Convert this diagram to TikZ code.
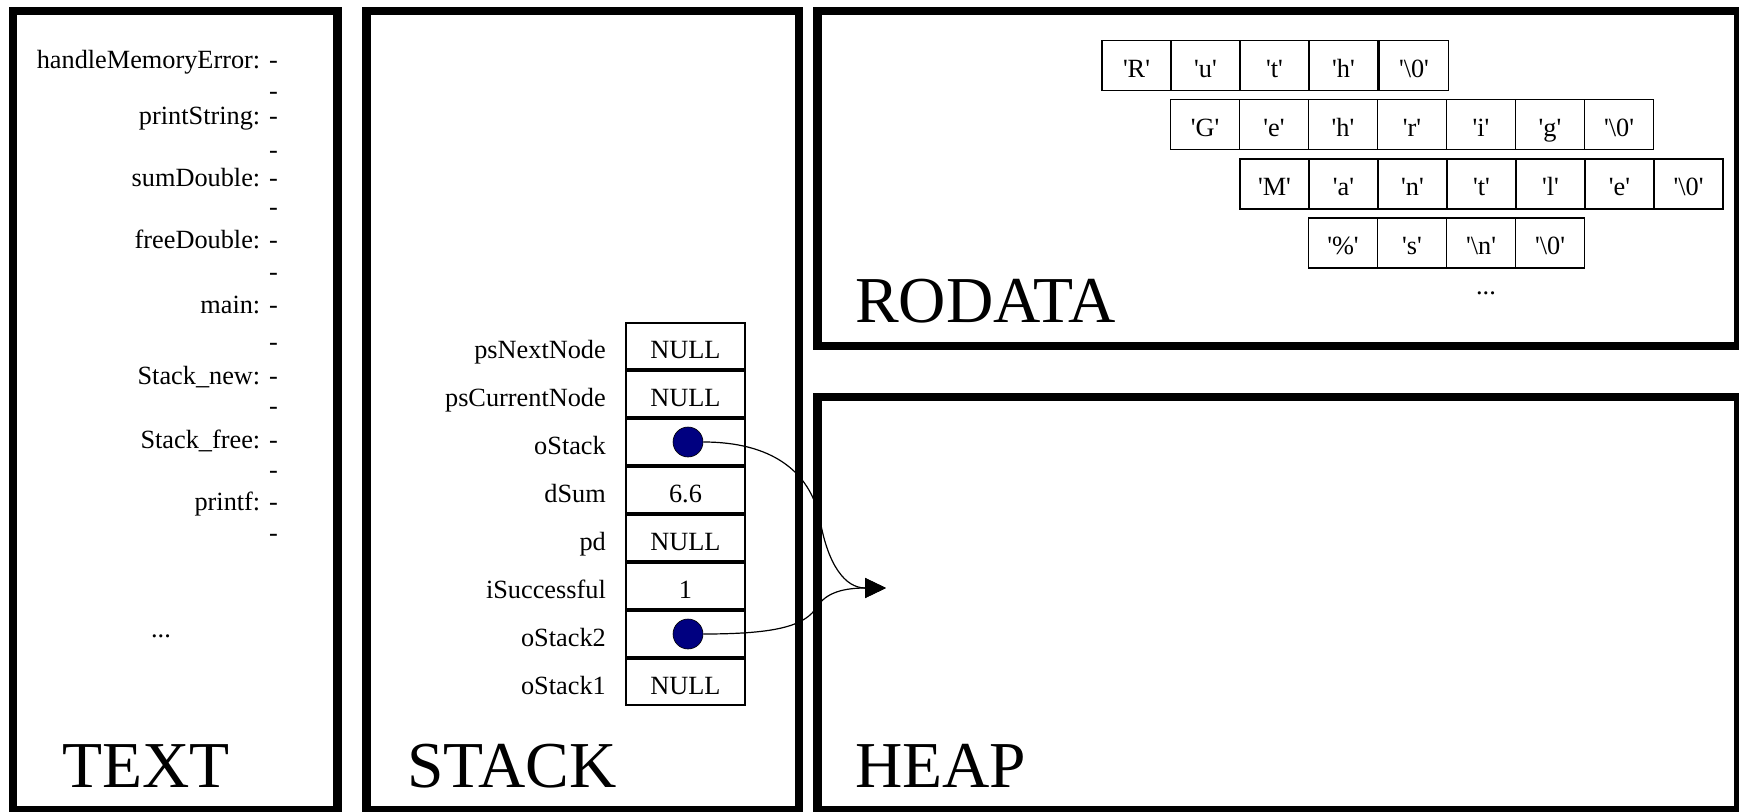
\documentclass[tikz,border=0pt]{standalone}
\usepackage{fontspec}
\setmainfont{Liberation Serif}[Ligatures=TeXOff]
\usetikzlibrary{arrows.meta}
\definecolor{dotblue}{RGB}{0,0,128}
\newcommand\fs{\fontsize{26.3}{31}\selectfont}
\newcommand\bigfs{\fontsize{65.5}{72}\selectfont}
\newcommand\bs{\textbackslash}
\begin{document}
\begin{tikzpicture}[x=1pt,y=-1pt,
  region/.style={draw, line width=8.5pt},
  biglabel/.style={anchor=base west, inner sep=0pt, font=\bigfs},
  tlabel/.style={anchor=base east, inner sep=0pt, font=\fs},
  scell/.style={draw, line width=1.6pt, minimum width=119pt, minimum height=46.4pt,
    inner sep=0pt, outer sep=0pt, text height=27pt, text depth=3pt, font=\fs},
  rcell/.style={draw, line width=1.5pt, minimum width=69pt, minimum height=50pt,
    inner sep=0pt, outer sep=0pt, text height=26pt, text depth=3pt, font=\fs},
  dot/.style={circle, fill=dotblue, draw=black, line width=0.6pt, minimum size=30pt, inner sep=0pt},
  ptr/.style={line width=1.2pt, -{Triangle[length=21pt,width=20pt]}}]
\useasboundingbox (0,0) rectangle (1739,811);
% regions
\draw[region] (13,11) rectangle (337.5,810.5);
\draw[region] (366.5,11) rectangle (799,810.5);
\draw[region] (817.5,11) rectangle (1738,346);
\draw[region] (817.5,397) rectangle (1738,810.5);
\node[biglabel] (lt) at (62,787) {TEXT};
\node[biglabel] (ls) at (407,787) {STACK};
\node[biglabel] (lh) at (855,787) {HEAP};
\node[biglabel] (lr) at (855,322) {RODATA};
% TEXT entries
\foreach \n/\a/\b [count=\i] in {handleMemoryError/68/99, printString/124/158,
  sumDouble/186/215, freeDouble/248/280, main/313/350, Stack\_new/384/414,
  Stack\_free/448/478, printf/510/541}{
  \node[tlabel] (f\i) at (278,\a) {\n: -};
  \node[tlabel] (g\i) at (278,\b) {-};
}
\node[anchor=base, inner sep=0pt, font=\fs] (tdots) at (161,637) {...};
% STACK
\foreach \n/\v [count=\i] in {psNextNode/NULL, psCurrentNode/NULL, oStack/{}, dSum/6.6,
  pd/NULL, iSuccessful/1, oStack2/{}, oStack1/NULL}{
  \node[scell] (c\i) at (685.5,{346+48*(\i-1)}) {\v};
  \node[tlabel] (n\i) at (606,{358.5+48*(\i-1)}) {\n};
}
\node[dot] (d1) at (688,442) {};
\node[dot] (d2) at (688,634) {};
\coordinate (heapin) at (886,588);
\draw[ptr] (d1.east) .. controls (770,442) and (810,470) .. (820,520)
  .. controls (828,565) and (845,588) .. (heapin);
\draw[ptr] (d2.east) .. controls (780,634) and (805,625) .. (817,607)
  .. controls (826,592) and (845,588) .. (heapin);
% RODATA
\foreach \t [count=\i] in {'R','u','t','h'}{
  \node[rcell] (ra\i) at ({1136.5+69*(\i-1)},65.5) {\t};
}
\node[rcell] (ra5) at (1414,65.5) {'\bs 0'};
\foreach \t [count=\i] in {'G','e','h','r','i','g','\bs 0'}{
  \node[rcell] (rb\i) at ({1205+69*(\i-1)},124.5) {\t};
}
\foreach \t [count=\i] in {'M','a','n','t','l','e','\bs 0'}{
  \node[rcell] (rc\i) at ({1274.5+69*(\i-1)},184) {\t};
}
\foreach \t [count=\i] in {'\%','s','\bs n','\bs 0'}{
  \node[rcell] (rd\i) at ({1343+69*(\i-1)},243) {\t};
}
\node[anchor=base, inner sep=0pt, font=\fs] (rdots) at (1486,294) {...};
\end{tikzpicture}
\end{document}
